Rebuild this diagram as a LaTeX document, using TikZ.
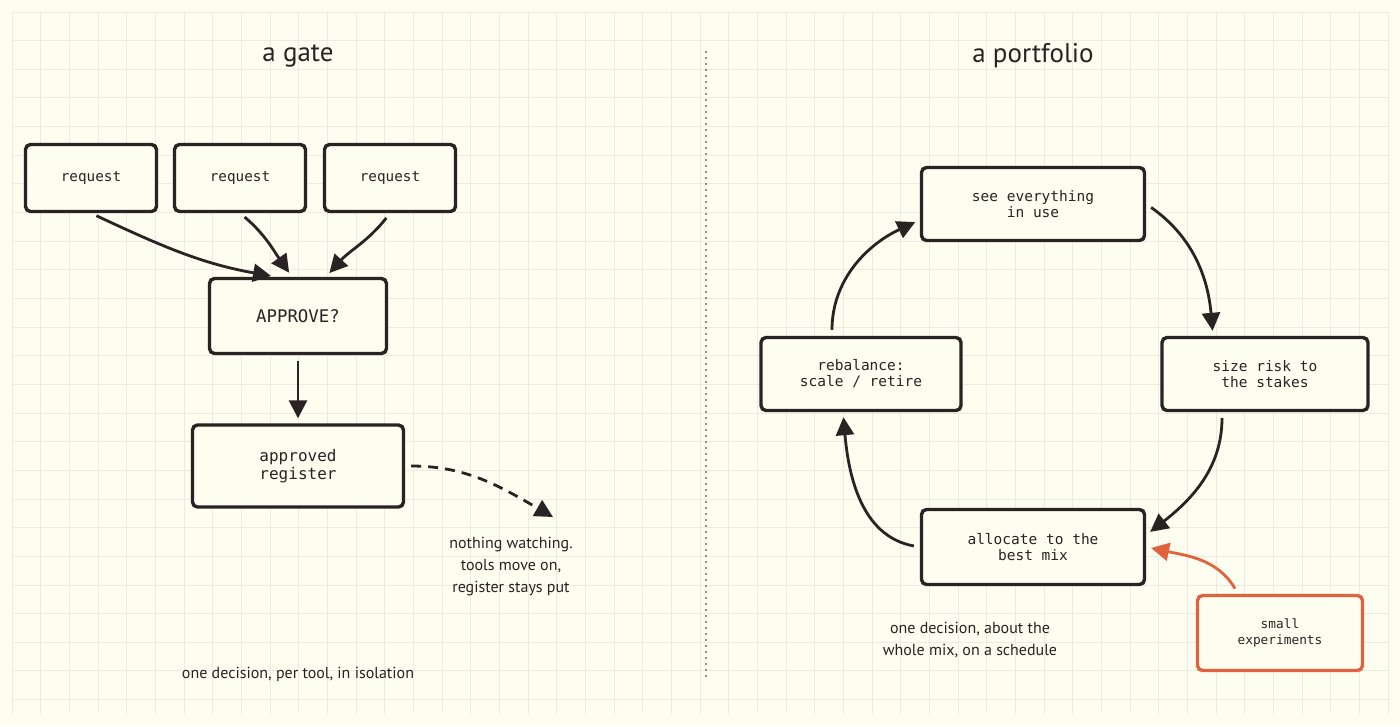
\documentclass[tikz,border=0pt]{standalone}
\usepackage{fontspec}
\setmainfont{PT Sans}
\setmonofont{DejaVu Sans Mono}
\usetikzlibrary{arrows.meta,positioning}
\definecolor{paper}{HTML}{FDFDF0}
\definecolor{gridline}{HTML}{ECEBE3}
\definecolor{ink}{HTML}{2A2323}
\definecolor{accent}{HTML}{E0623F}

\begin{document}
\begin{tikzpicture}[x=1pt,y=-1pt,
        box/.style={draw=ink,fill=paper,line width=3.4pt,rounded corners=5pt,align=center,text=ink,inner sep=2pt},
        mono/.style 2 args={font=\ttfamily\fontsize{#1}{#2}\selectfont},
        hand/.style={text=ink,align=center,font=\fontsize{16}{22}\selectfont},
        title/.style={text=ink,font=\fontsize{27}{30}\selectfont},
        flow/.style={draw=ink,line width=2.8pt,-{Triangle[length=18pt,width=18pt]},shorten <=6pt,shorten >=5pt}
    ]
        \useasboundingbox (0,0) rectangle (1400,726);

        % paper and grid
        \fill[paper] (0,0) rectangle (1400,726);
        \foreach \gx in {12,40.67,...,1389} \draw[gridline,line width=1pt] (\gx,12) -- (\gx,714);
        \foreach \gy in {12,40.65,...,715} \draw[gridline,line width=1pt] (12,\gy) -- (1388,\gy);

        % divider
        \draw[ink,line width=1.8pt,line cap=round,dash pattern=on 0pt off 6pt] (706,52) -- (706,678);

        % LEFT - a gate
        \node[title] (gatetitle) at (298,56) {a gate};
        \node[box,mono={14.3}{17},minimum width=131pt,minimum height=67pt] (req1) at (91,178) {request};
        \node[box,mono={14.3}{17},minimum width=131pt,minimum height=67pt] (req2) at (240,178) {request};
        \node[box,mono={14.3}{17},minimum width=131pt,minimum height=67pt] (req3) at (390,178) {request};
        \node[box,mono={17.4}{20},minimum width=177pt,minimum height=75pt] (approve) at (298,316) {APPROVE?};
        \node[box,mono={16}{18},minimum width=211pt,minimum height=82pt] (register) at (298,466) {approved\\register};
        \node[hand] (nowatch) at (511,567) {nothing watching.\\tools move on,\\register stays put};
        \coordinate (drift) at (553,517);
        \node[hand] (gatenote) at (298,674) {one decision, per tool, in isolation};

        \draw[flow] (req1.south) to[out=-25,in=170] ([xshift=-22pt]approve.north);
        \draw[flow] (req2.south) to[out=-40,in=125] ([xshift=-6pt]approve.north);
        \draw[flow] (req3.south) to[out=-128,in=48] ([xshift=28pt]approve.north);
        \draw[flow] (approve) -- (register);
        \draw[flow,dash pattern=on 10pt off 7pt,shorten >=0pt] (register.east) to[out=0,in=150] (drift);

        % RIGHT - a portfolio
        \node[title] (folititle) at (1033,56) {a portfolio};
        \node[box,mono={14.5}{16},minimum width=223pt,minimum height=73pt] (see) at (1033,204) {see everything\\in use};
        \node[box,mono={14.5}{16},minimum width=206pt,minimum height=73pt] (size) at (1265,374) {size risk to\\the stakes};
        \node[box,mono={14.5}{16},minimum width=223pt,minimum height=75pt] (alloc) at (1033,547) {allocate to the\\best mix};
        \node[box,mono={14.5}{16},minimum width=200pt,minimum height=73pt] (rebal) at (861,374) {rebalance:\\scale / retire};
        \node[box,draw=accent,mono={12.8}{16},minimum width=165pt,minimum height=75pt] (small) at (1280,633) {small\\experiments};
        \node[hand] (folinote) at (970,640) {one decision, about the\\whole mix, on a schedule};

        \draw[flow] ([xshift=-29pt]rebal.north) to[out=90,in=205] ([yshift=-16pt]see.west);
        \draw[flow] (see.east) to[out=-35,in=95] ([xshift=-52pt]size.north);
        \draw[flow] ([xshift=-43pt]size.south) to[out=-90,in=38] ([yshift=12pt]alloc.east);
        \draw[flow] (alloc.west) to[out=170,in=-85] ([xshift=-18pt]rebal.south);
        \draw[flow,draw=accent] ([xshift=-42pt]small.north) to[out=120,in=-12] (alloc.east);

    \end{tikzpicture}
\end{document}
